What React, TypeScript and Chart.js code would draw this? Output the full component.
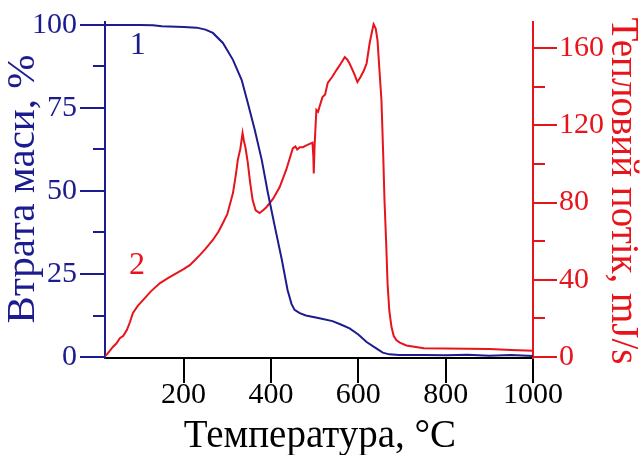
import React, { useEffect, useRef } from "react";
import { Chart, registerables } from "chart.js";

Chart.register(...registerables);

// Mass loss (TG), %  — curve 1, left axis
const tgTemp = [20, 100, 130, 150, 200, 230, 250, 267, 290, 313, 333, 347, 363, 379, 393, 409, 425, 438, 447, 454, 466, 480, 511, 541, 560, 580, 600, 619, 642, 656, 671, 694, 750, 800, 850, 900, 950, 1000];
const tgMass = [100, 100, 99.9, 99.6, 99.4, 99.2, 98.6, 97.6, 94.6, 89.5, 83.4, 76.5, 68.4, 59.3, 49.4, 39.2, 29.2, 20.2, 16.0, 14.2, 13.2, 12.5, 11.7, 10.8, 9.8, 8.6, 6.8, 4.5, 2.5, 1.3, 0.8, 0.6, 0.6, 0.5, 0.7, 0.4, 0.6, 0.3];

// Heat flow (DSC), mJ/s — curve 2, right axis
const dscTemp = [20, 25, 38, 46, 54, 62, 70, 77, 84, 95, 107, 125, 146, 165, 184, 200, 214, 225, 237, 250, 267, 280, 290, 300, 313, 320, 324, 330, 335, 338, 342, 347, 352, 358, 365, 374, 382, 390, 405, 420, 435, 450, 456, 460, 466, 473, 480, 490, 495, 497, 498, 500, 504, 508, 511, 518, 524, 530, 540, 550, 560, 569, 575, 580, 590, 598, 605, 612, 619, 626, 630, 635, 640, 644, 648, 653, 657, 660, 664, 667, 671, 676, 681, 687, 695, 710, 750, 800, 850, 900, 950, 1000];
const dscFlow = [0.5, 1.5, 5.2, 7, 9.8, 11, 14, 18, 22.8, 26.5, 29.5, 34, 38.3, 41, 43.5, 45.5, 47.6, 50, 52.8, 56, 60.6, 65, 69.4, 74, 84.9, 95, 102, 108, 116, 112, 108, 100.5, 91, 81.3, 76, 74.6, 76, 77.7, 82, 88, 97, 108, 109, 107.5, 108.7, 108.7, 109.5, 110.5, 111, 104, 95, 110, 128, 127, 129.5, 134.6, 136, 142, 145, 148.6, 152, 155.3, 154, 152, 147, 142.4, 145, 148, 152, 162.6, 167, 172.4, 170, 164, 150, 133, 105, 81, 58, 38, 24, 15.5, 11, 8.8, 7.5, 6, 4.6, 4.4, 4.3, 4.1, 3.6, 3.2];

const xTicks = [200, 400, 600, 800, 1000];
const leftTicks = [0, 25, 50, 75, 100];
const leftMinor = [12.5, 37.5, 62.5, 87.5];
const rightTicks = [0, 40, 80, 120, 160];
const rightMinor = [20, 60, 100, 140];

const xTitle = "Температура, °C";
const leftTitle = "Втрата маси, %";
const rightTitle = "Тепловий потік, mJ/s";
const curveLabelText = ["1", "2"];
const curveLabelTemp = [95, 93];
const curveLabelMass = [93.7, 27.4];

const BLUE = "#1c1c8e";
const RED = "#e8141c";
const FONT = '"Liberation Serif", "Times New Roman", serif';

export default function App() {
  const ref = useRef<HTMLCanvasElement | null>(null);

  useEffect(() => {
    document.body.style.margin = "0";
    const canvas = ref.current;
    if (!canvas) return;

    const overlay = {
      id: "overlay",
      afterDraw(chart: any) {
        const { ctx, chartArea, scales } = chart;
        const { x, y, y2 } = scales;
        ctx.save();
        ctx.lineWidth = 2;
        ctx.strokeStyle = BLUE;
        leftMinor.forEach((v) => {
          const p = Math.round(y.getPixelForValue(v));
          ctx.beginPath();
          ctx.moveTo(chartArea.left - 12, p);
          ctx.lineTo(chartArea.left, p);
          ctx.stroke();
        });
        ctx.strokeStyle = RED;
        rightMinor.forEach((v) => {
          const p = Math.round(y2.getPixelForValue(v));
          ctx.beginPath();
          ctx.moveTo(chartArea.right, p);
          ctx.lineTo(chartArea.right + 12, p);
          ctx.stroke();
        });

        // axis titles
        ctx.textAlign = "center";
        ctx.textBaseline = "alphabetic";
        ctx.fillStyle = "#000";
        ctx.font = `39px ${FONT}`;
        ctx.fillText(xTitle, 320, 447);

        ctx.save();
        ctx.font = `41px ${FONT}`;
        ctx.translate(23, 189);
        ctx.rotate(-Math.PI / 2);
        ctx.textBaseline = "middle";
        ctx.fillStyle = BLUE;
        ctx.fillText(leftTitle, 0, 0);
        ctx.restore();

        ctx.save();
        ctx.font = `39px ${FONT}`;
        ctx.translate(622, 191);
        ctx.rotate(Math.PI / 2);
        ctx.textBaseline = "middle";
        ctx.fillStyle = RED;
        ctx.fillText(rightTitle, 0, 0);
        ctx.restore();

        // curve labels
        ctx.font = `32px ${FONT}`;
        ctx.textAlign = "center";
        ctx.textBaseline = "middle";
        curveLabelText.forEach((t, i) => {
          ctx.fillStyle = i === 0 ? BLUE : RED;
          ctx.fillText(t, x.getPixelForValue(curveLabelTemp[i]), y.getPixelForValue(curveLabelMass[i]));
        });
        ctx.restore();
      },
    };

    const tickFont = { family: FONT, size: 30, lineHeight: 1 };
    const plain = (v: any) => String(v);

    const chart = new Chart(canvas, {
      type: "line",
      data: {
        datasets: [
          {
            label: "1",
            data: tgTemp.map((t, i) => ({ x: t, y: tgMass[i] })),
            borderColor: BLUE,
            borderWidth: 2,
            pointRadius: 0,
            yAxisID: "y",
            tension: 0,
          },
          {
            label: "2",
            data: dscTemp.map((t, i) => ({ x: t, y: dscFlow[i] })),
            borderColor: RED,
            borderWidth: 2,
            pointRadius: 0,
            yAxisID: "y2",
            tension: 0,
          },
        ],
      },
      options: {
        responsive: false,
        animation: false,
        parsing: false as any,
        layout: { padding: { top: 22, left: 0, right: 0, bottom: 0 } },
        plugins: { legend: { display: false }, tooltip: { enabled: false } },
        scales: {
          x: {
            type: "linear",
            min: 20,
            max: 1000,
            afterBuildTicks: (s: any) => {
              s.ticks = xTicks.map((v) => ({ value: v }));
            },
            afterFit: (s: any) => {
              s.height = 97;
            },
            grid: { drawOnChartArea: false, drawTicks: true, tickLength: 25, color: "#000", lineWidth: 2 },
            border: { display: true, color: "#000", width: 2 },
            ticks: { color: "#000", font: tickFont, padding: -3, maxRotation: 0, autoSkip: false, callback: plain },
          },
          y: {
            type: "linear",
            position: "left",
            min: -0.3,
            max: 100.9,
            afterBuildTicks: (s: any) => {
              s.ticks = leftTicks.map((v) => ({ value: v }));
            },
            afterFit: (s: any) => {
              s.width = 105;
            },
            grid: { drawOnChartArea: false, drawTicks: true, tickLength: 25, color: BLUE, lineWidth: 2 },
            border: { display: true, color: BLUE, width: 2 },
            ticks: { color: BLUE, font: tickFont, padding: 3, autoSkip: false, callback: plain },
          },
          y2: {
            type: "linear",
            position: "right",
            min: -0.5,
            max: 173.5,
            afterBuildTicks: (s: any) => {
              s.ticks = rightTicks.map((v) => ({ value: v }));
            },
            afterFit: (s: any) => {
              s.width = 111;
            },
            grid: { drawOnChartArea: false, drawTicks: true, tickLength: 24, color: RED, lineWidth: 2 },
            border: { display: true, color: RED, width: 2 },
            ticks: { color: RED, font: tickFont, padding: 2, autoSkip: false, callback: plain },
          },
        },
      },
      plugins: [overlay],
    });

    return () => chart.destroy();
  }, []);

  return (
    <div style={{ width: 644, height: 455, background: "#fff" }}>
      <canvas ref={ref} width={644} height={455} />
    </div>
  );
}
